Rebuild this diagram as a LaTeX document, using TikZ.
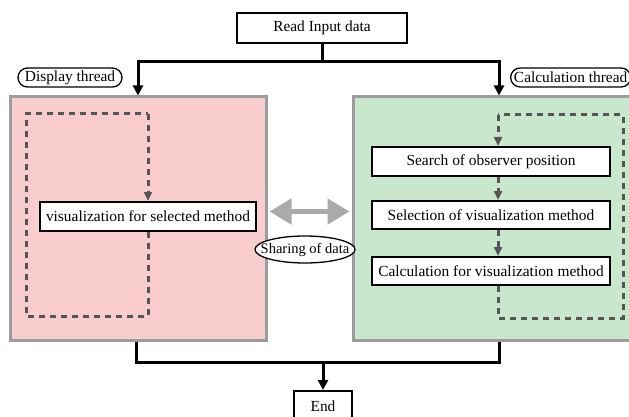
\documentclass[tikz,border=0pt]{standalone}
\usepackage{fontspec}
\setmainfont{Liberation Serif}
\usetikzlibrary{arrows.meta,shapes.misc,shapes.geometric}

\definecolor{pinkfill}{HTML}{F9CCCE}
\definecolor{greenfill}{HTML}{C9E7CC}
\definecolor{frame}{HTML}{9C9C9C}
\definecolor{loopgray}{HTML}{555555}
\definecolor{sharegray}{HTML}{AAAAAA}

\tikzset{
  txt/.style={font=\fontsize{15.4pt}{17pt}\selectfont},
  stepbox/.style={txt, draw=black, line width=2pt, fill=white, inner sep=0pt},
  threadbox/.style={draw=frame, line width=3pt, inner sep=0pt},
  tag/.style={txt, rounded rectangle, draw=black, line width=1.3pt, fill=white,
    inner sep=0pt, minimum height=19pt},
  flow/.style={draw=black, line width=3pt, -{Triangle[length=10pt,width=10pt]}},
  flowline/.style={draw=black, line width=3pt},
  loop/.style={draw=loopgray, line width=3pt, dash pattern=on 6pt off 5pt},
  looparrow/.style={loop, -{Triangle[length=9pt,width=8pt]}},
}

\begin{document}
\begin{tikzpicture}[x=1pt,y=-1pt]
\useasboundingbox (0,0) rectangle (629,417);
\clip (0,0) rectangle (629,417);

% thread panels
\node[threadbox, fill=pinkfill, minimum width=256pt, minimum height=243pt] (disp) at (138,218.5) {};
\node[threadbox, fill=greenfill, minimum width=292pt, minimum height=243pt] (calc) at (499,218.5) {};

% start and end
\node[stepbox, minimum width=170pt, minimum height=30pt] (read) at (322,28) {Read Input data};
\node[stepbox, minimum width=58pt, minimum height=30pt] (end) at (323,406) {End};

% thread labels
\node[tag, minimum width=104pt] (disptag) at (70,77.5) {Display thread};
\node[tag, minimum width=120pt, anchor=west] (calctag) at (510,77.5) {Calculation thread};

% steps
\node[stepbox, minimum width=216pt, minimum height=29pt] (vis) at (148,216.5) {visualization for selected method};
\node[stepbox, minimum width=238pt, minimum height=29pt] (search) at (491,161.5) {Search of observer position};
\node[stepbox, minimum width=238pt, minimum height=28pt] (select) at (491,215) {Selection of visualization method};
\node[stepbox, minimum width=238pt, minimum height=28pt] (calcm) at (491,271) {Calculation for visualization method};

% data sharing between threads
\draw[sharegray, line width=5pt, {Triangle[length=22pt,width=25pt]}-{Triangle[length=22pt,width=25pt]}]
  (disp.east) ++(2,-7) coordinate (shareL) (calc.west) ++(-2,-7) coordinate (shareR)
  (shareL) -- (shareR);
\node[font=\fontsize{14.5pt}{16pt}\selectfont, ellipse, draw=black, line width=1.3pt, fill=white,
  inner xsep=-9pt, inner ysep=1pt, minimum width=100pt, minimum height=27pt]
  (share) at (305,249.5) {Sharing of data};

% main flow
\coordinate (split) at (322,62);
\coordinate (dispin) at (138,62);
\coordinate (calcin) at (499,62);
\draw[flowline] (read.south) -- (split);
\draw[flow] (split) -- (dispin) -- (dispin |- disp.north);
\draw[flow] (split) -- (calcin) -- (calcin |- calc.north);

\coordinate (joinL) at (136,362);
\coordinate (joinR) at (499,362);
\coordinate (join) at (323,362);
\draw[flowline, line join=miter] (joinL |- disp.south) -- (joinL) -- (joinR) -- (joinR |- calc.south);
\draw[flow] (join) -- (end.north);

% display loop
\coordinate (dl1) at (26,114);
\coordinate (dl2) at (148,114);
\coordinate (dl3) at (148,316);
\coordinate (dl4) at (26,316);
\draw[loop] (vis.south) -- (dl3) -- (dl4) -- (dl1) -- (dl2);
\draw[looparrow] (dl2) -- (vis.north);

% calculation loop
\coordinate (cl0) at (498,318);
\coordinate (cl1) at (623,318);
\coordinate (cl2) at (623,115);
\coordinate (cl3) at (498,115);
\draw[loop] (calcm.south -| cl0) -- (cl0) -- (cl1) -- (cl2) -- (cl3);
\draw[looparrow] (cl3) -- (search.north -| cl3);
\draw[looparrow] (search.south -| cl3) -- (select.north -| cl3);
\draw[looparrow] (select.south -| cl3) -- (calcm.north -| cl3);
\end{tikzpicture}
\end{document}
